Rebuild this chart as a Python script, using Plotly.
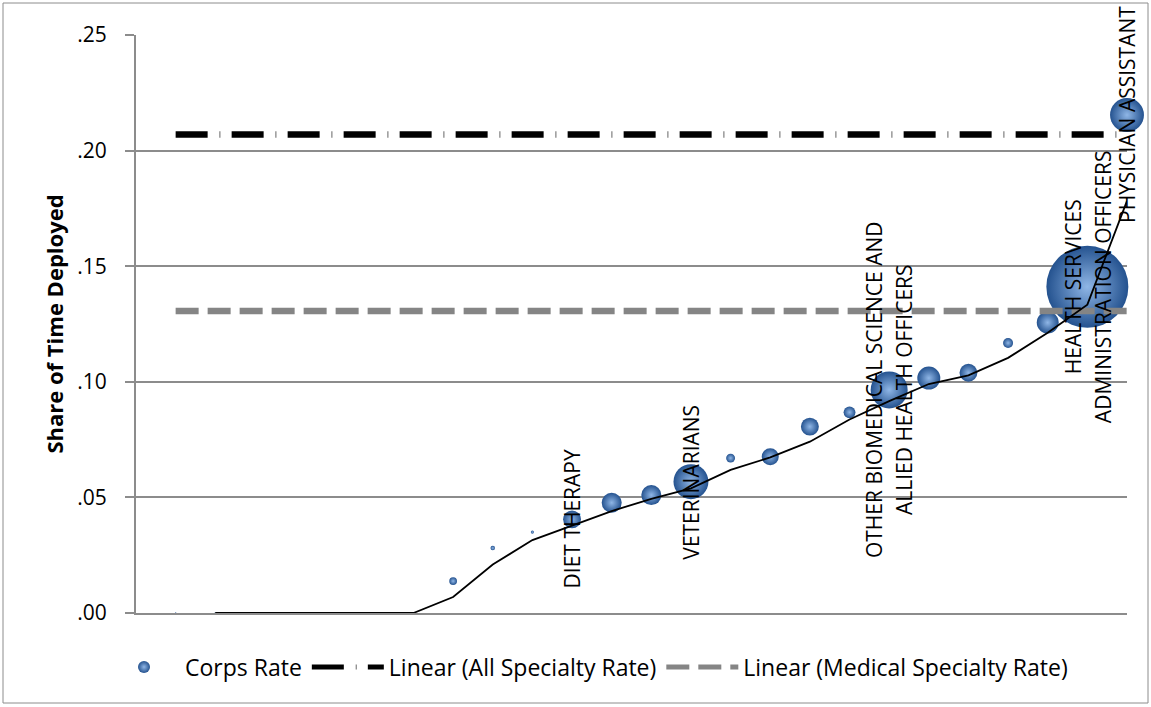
import plotly.graph_objects as go
import pandas as pd

# ---- data ----
specialty_index = list(range(1, 26))
corps_rate = [0.0, 0.0, 0.0, 0.0, 0.0, 0.0, 0.0, 0.0138, 0.0281, 0.0350,
              0.0405, 0.0477, 0.0510, 0.0568, 0.0670, 0.0676, 0.0806, 0.0868,
              0.0965, 0.1016, 0.1039, 0.1168, 0.1256, 0.1411, 0.2154]
corps_size = [0.2, 0.2, 0.2, 0.1, 0.2, 0.1, 0.1, 6, 2, 1,
              32, 40, 40, 122, 8, 29, 32, 14,
              137, 53, 32, 10, 48, 672, 115]
point_labels = ["", "", "", "", "", "", "", "", "", "",
                "DIET THERAPY", "", "", "VETERINARIANS", "", "", "", "",
                "OTHER BIOMEDICAL SCIENCE AND<br>ALLIED HEALTH OFFICERS", "", "", "", "",
                "HEALTH SERVICES<br>ADMINISTRATION OFFICERS", "PHYSICIAN ASSISTANT"]
all_specialty_rate = [0.207] * 25
medical_specialty_rate = [0.1306] * 25
y_tick_values = [0.0, 0.05, 0.10, 0.15, 0.20, 0.25]
y_tick_labels = [".00", ".05", ".10", ".15", ".20", ".25"]

# 2-period moving average trendline of corps rate
moving_avg = pd.Series(corps_rate).rolling(2).mean().tolist()

FONT = "Open Sans"
fig = go.Figure()

max_d = 82
fig.add_trace(go.Scatter(
    x=specialty_index, y=corps_rate, mode="markers", name="Corps Rate",
    marker=dict(size=corps_size, sizemode="area",
                sizeref=2 * max(corps_size) / max_d ** 2, sizemin=0,
                color="#24528f", opacity=1,
                gradient=dict(type="radial", color="#8fb6e6"),
                line=dict(width=0)),
    cliponaxis=False,
))
fig.add_trace(go.Scatter(
    x=specialty_index, y=medical_specialty_rate, mode="lines",
    name="Linear (Medical Specialty Rate)",
    line=dict(color="#858585", width=6.5, dash="23px,9px"),
))
fig.add_trace(go.Scatter(
    x=specialty_index, y=all_specialty_rate, mode="lines",
    name="Linear (All Specialty Rate)",
    line=dict(color="#000000", width=6.5, dash="32px,12px,0.6px,11.4px"),
))
fig.add_trace(go.Scatter(
    x=specialty_index, y=moving_avg, mode="lines", showlegend=False,
    line=dict(color="#000000", width=1.8),
))

# data labels (rotated, centered on bubble)
for xi, yi, lab in zip(specialty_index, corps_rate, point_labels):
    if not lab:
        continue
    parts = lab.split("<br>")
    n = len(parts)
    for k, p in enumerate(parts):
        fig.add_annotation(x=xi, y=yi, xref="x", yref="y", text=p,
                           textangle=-90, showarrow=False,
                           xshift=(k - (n - 1) / 2) * 30,
                           font=dict(family=FONT, size=21, color="#000000"))

# outer chart border
L, R, T, B = 136, 1127, 35, 613
pw, ph = R - L, B - T
fig.add_shape(type="rect", xref="paper", yref="paper",
              x0=(3 - L) / pw, x1=(1148 - L) / pw,
              y0=(B - 703) / ph, y1=(B - 3) / ph,
              line=dict(color="#8c8c8c", width=1), layer="below")

fig.update_layout(
    width=1151, height=707,
    margin=dict(l=L, r=1151 - R, t=T, b=707 - B, autoexpand=False),
    paper_bgcolor="white", plot_bgcolor="white",
    font=dict(family=FONT, color="#000000"),
    legend=dict(orientation="h", x=(588 - L) / pw, xanchor="center",
                y=(B - 667) / ph, yanchor="middle",
                font=dict(family=FONT, size=23, color="#000000"),
                traceorder="normal", itemsizing="constant",
                itemwidth=72),
    xaxis=dict(range=[0, 25], showgrid=False, showticklabels=False,
               ticks="", showline=True, linecolor="#8c8c8c", linewidth=2,
               zeroline=False, fixedrange=True),
    yaxis=dict(range=[0, 0.25], tickvals=y_tick_values, ticktext=y_tick_labels,
               showgrid=True, gridcolor="#8c8c8c", gridwidth=1.5,
               showline=True, linecolor="#8c8c8c", linewidth=2,
               ticks="outside", ticklen=9, tickcolor="#8c8c8c", tickwidth=1.5,
               ticklabelstandoff=14,
               tickfont=dict(family=FONT, size=21, color="#000000"),
               zeroline=False, automargin=False,
               title=dict(text="<b>Share of Time Deployed</b>",
                          font=dict(family=FONT, size=22, color="#000000"),
                          standoff=8)),
)

# legend order: Corps Rate, All Specialty, Medical Specialty
fig.data[0].legendrank = 1
fig.data[2].legendrank = 2
fig.data[1].legendrank = 3

fig.write_html("out.html",
               config={"displayModeBar": False},
               post_script="document.body.style.margin='0';"
                           "document.body.style.overflow='hidden';")
